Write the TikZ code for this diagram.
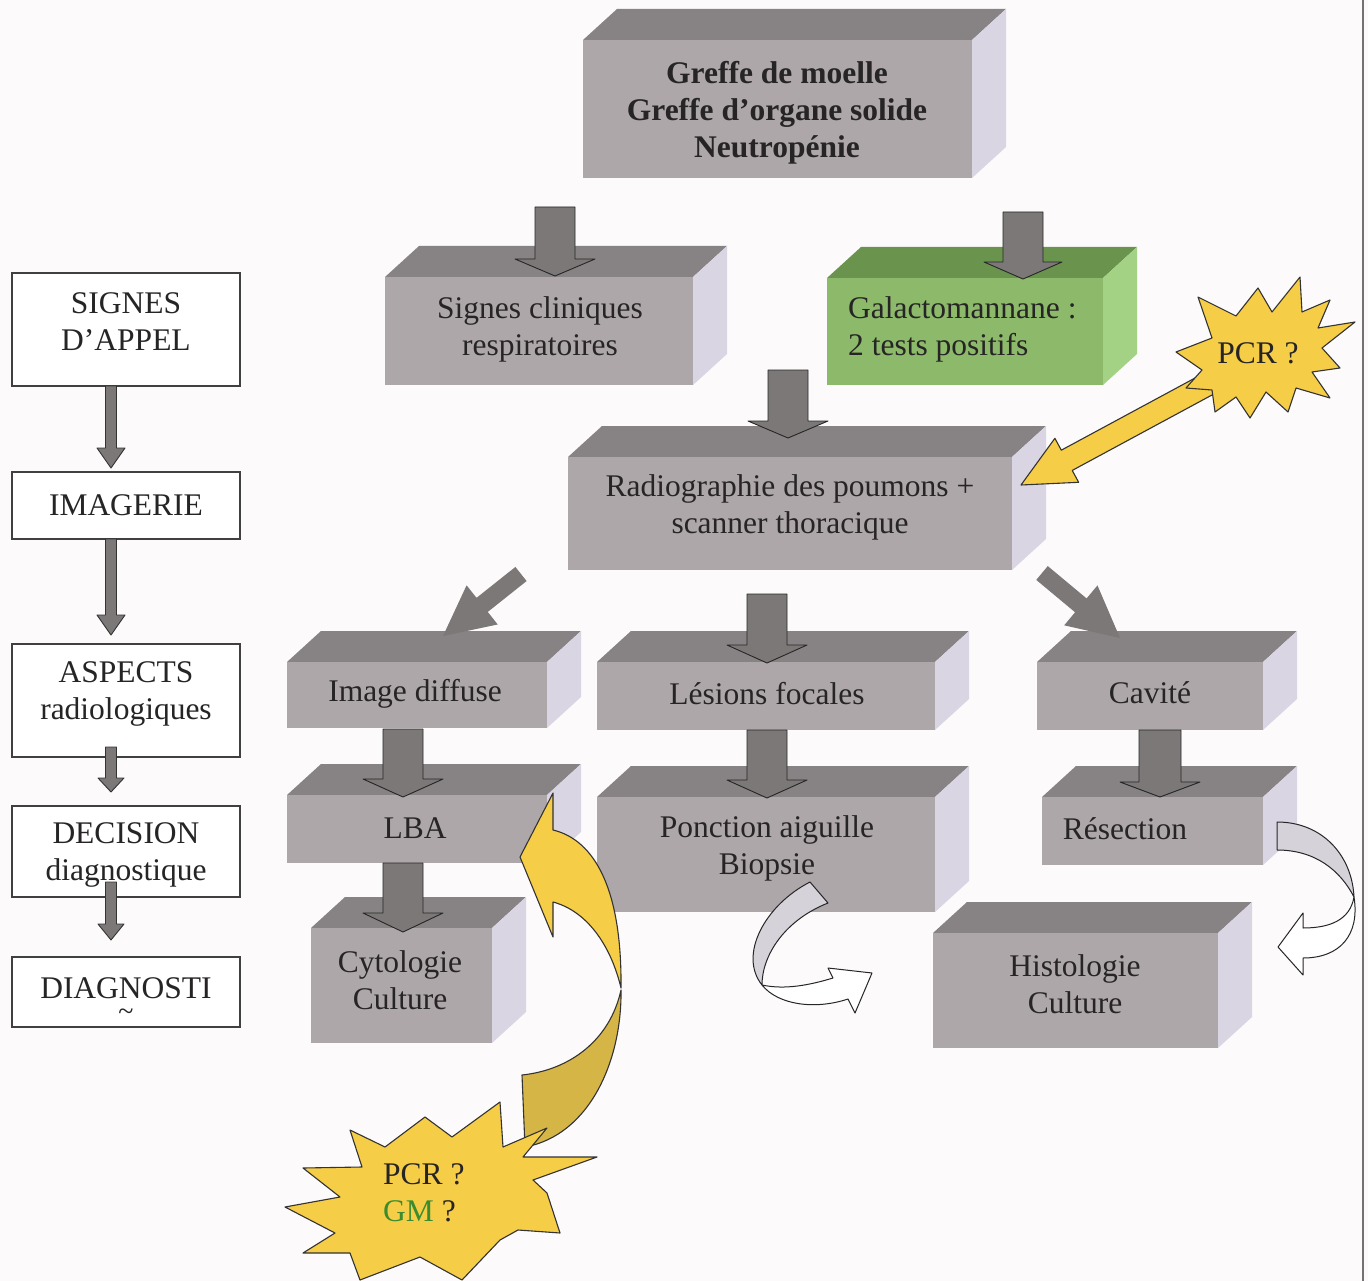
\documentclass[tikz,border=0pt]{standalone}
\usepackage{fontspec}
\setmainfont{Liberation Serif}
\usetikzlibrary{calc}
\definecolor{bg}{HTML}{FCFAFB}
\definecolor{frontc}{HTML}{ADA7AA}
\definecolor{topc}{HTML}{878283}
\definecolor{sidec}{HTML}{DAD5E3}
\definecolor{gfrontc}{HTML}{8CB96A}
\definecolor{gtopc}{HTML}{6A944E}
\definecolor{gsidec}{HTML}{A4D284}
\definecolor{arrc}{HTML}{7D7878}
\definecolor{txtc}{HTML}{262424}
\definecolor{yel}{HTML}{F6CD47}
\definecolor{yeld}{HTML}{D6B547}
\definecolor{gmc}{HTML}{3B8C2E}
\definecolor{ribc}{HTML}{D6D2D9}
\tikzset{
 greyfront/.style={fill=frontc, inner sep=0pt, outer sep=0pt},
 greytop/.style={fill=topc},
 greyside/.style={fill=sidec},
 greenfront/.style={fill=gfrontc, inner sep=0pt, outer sep=0pt},
 greentop/.style={fill=gtopc},
 greenside/.style={fill=gsidec},
 txt/.style={font=\fontsize{31.5}{37}\selectfont, text=txtc, align=center, inner sep=0pt},
 lbox/.style={draw=black!75, line width=1.3pt, fill=white, minimum width=228pt, inner sep=0pt},
 blk/.style={fill=arrc, draw=black!85, line width=0.9pt, line join=round},
 diagarr/.style={fill=arrc},
 lblk/.style={fill=arrc, draw=black!80, line width=0.9pt, line join=round},
 yfill/.style={fill=yel, draw=black!80, line width=1.1pt, line join=round},
 ydark/.style={fill=yeld, draw=black!80, line width=1.1pt, line join=round},
 ribgrey/.style={fill=ribc, draw=black!85, line width=1pt, line join=round},
 ribwhite/.style={fill=white, draw=black!85, line width=1pt, line join=round},
}
% 3D box: name, x1, y1, x2, y2, style prefix
\newcommand\cubebox[6]{%
  \fill[#6top] (#2,#3) -- ({#2+34},{#3-31}) -- ({#4+34},{#3-31}) -- (#4,#3) -- cycle;
  \fill[#6side] (#4,#3) -- ({#4+34},{#3-31}) -- ({#4+34},{#5-31}) -- (#4,#5) -- cycle;
  \node[#6front, minimum width={(#4)-(#2)}, minimum height={(#5)-(#3)}] (#1) at ({(#2+#4)/2},{(#3+#5)/2}) {};
}
% block arrow: style, prefix, start, tip, shaft half width, head half width, head length
\newcommand\blockarrow[7]{%
  \coordinate (#2h) at ($(#4)!#7pt!(#3)$);
  \path[#1] ($(#3)!#5pt!90:(#4)$) -- ($(#2h)!#5pt!-90:(#3)$) -- ($(#2h)!#6pt!-90:(#3)$) -- (#4)
    -- ($(#2h)!#6pt!90:(#3)$) -- ($(#2h)!#5pt!90:(#3)$) -- ($(#3)!#5pt!-90:(#4)$) -- cycle;
}
\begin{document}
\begin{tikzpicture}[x=1pt,y=-1pt]
\useasboundingbox (0,0) rectangle (1368,1281);
\fill[bg] (0,0) rectangle (1368,1281);
\draw[black!55, line width=2pt] (1363,0) -- (1363,1281);

% ---------- 3D boxes ----------
\cubebox{b1}{583}{40}{972}{178}{grey}
\cubebox{b2}{385}{277}{693}{385}{grey}
\cubebox{b3}{827}{278}{1103}{385}{green}
\cubebox{b4}{568}{457}{1012}{570}{grey}
\cubebox{b5}{287}{662}{547}{728}{grey}
\cubebox{b6}{597}{662}{935}{730}{grey}
\cubebox{b7}{1037}{662}{1263}{730}{grey}
\cubebox{b8}{287}{795}{547}{863}{grey}
\cubebox{b9}{597}{797}{935}{912}{grey}
\cubebox{b10}{1042}{797}{1263}{865}{grey}
\cubebox{b11}{311}{928}{492}{1043}{grey}
\cubebox{b12}{933}{933}{1218}{1048}{grey}

% ---------- box texts ----------
\node[txt, font=\fontsize{31.5}{37}\selectfont\bfseries] (t1) at (777,113) {Greffe de moelle\\Greffe d’organe solide\\Neutropénie};
\node[txt] (t2) at (540,329) {Signes cliniques\\respiratoires};
\node[txt, align=left, anchor=west] (t3) at (848,329) {Galactomannane :\\2 tests positifs};
\node[txt] (t4) at (790,507) {Radiographie des poumons +\\scanner thoracique};
\node[txt] (t5) at (415,694) {Image diffuse};
\node[txt] (t6) at (767,694) {Lésions focales};
\node[txt] (t7) at (1150,693) {Cavité};
\node[txt] (t8) at (415,828) {LBA};
\node[txt] (t9) at (767,848) {Ponction aiguille\\Biopsie};
\node[txt] (t10) at (1125,829) {Résection};
\node[txt] (t11) at (400,980) {Cytologie\\Culture};
\node[txt] (t12) at (1075,984) {Histologie\\Culture};

% ---------- left column ----------
\node[lbox, minimum height=113pt] (L1) at (126,329.5) {};
\node[lbox, minimum height=67pt] (L2) at (126,505.5) {};
\node[lbox, minimum height=113pt] (L3) at (126,700.5) {};
\node[lbox, minimum height=91pt] (L4) at (126,851.5) {};
\node[lbox, minimum height=70pt] (L5) at (126,992) {};
\node[txt] (tL1) at (126,322) {SIGNES\\D’APPEL};
\node[txt] (tL2) at (126,505) {IMAGERIE};
\node[txt] (tL3) at (126,694) {ASPECTS\\radiologiques};
\node[txt] (tL4) at (126,855) {DECISION\\diagnostique};
\node[txt, anchor=north] (tL5) at (126,977) {DIAGNOSTI\\[-15pt]{\fontsize{28}{28}\selectfont\textasciitilde}};

\coordinate (l1s) at (111,386); \coordinate (l1e) at (111,468);
\coordinate (l2s) at (111,539); \coordinate (l2e) at (111,635);
\coordinate (l3s) at (111,747); \coordinate (l3e) at (111,792);
\coordinate (l4s) at (111,882); \coordinate (l4e) at (111,940);
\blockarrow{lblk}{l1}{l1s}{l1e}{5.5}{14}{20}
\blockarrow{lblk}{l2}{l2s}{l2e}{5.5}{14}{20}
\blockarrow{lblk}{l3}{l3s}{l3e}{5.5}{13}{14}
\blockarrow{lblk}{l4}{l4s}{l4e}{5.5}{13}{16}

% ---------- grey block arrows ----------
\coordinate (a1s) at (555,207);  \coordinate (a1e) at (555,276);
\coordinate (a2s) at (1023,212); \coordinate (a2e) at (1023,279);
\coordinate (a3s) at (788,370);  \coordinate (a3e) at (788,438);
\coordinate (a5s) at (767,594);  \coordinate (a5e) at (767,663);
\coordinate (a7s) at (403,729);  \coordinate (a7e) at (403,797);
\coordinate (a8s) at (767,730);  \coordinate (a8e) at (767,798);
\coordinate (a9s) at (1160,730); \coordinate (a9e) at (1160,797);
\coordinate (a10s) at (403,863); \coordinate (a10e) at (403,932);
\blockarrow{blk}{a1}{a1s}{a1e}{20}{40}{17}
\blockarrow{blk}{a2}{a2s}{a2e}{20}{39}{17}
\blockarrow{blk}{a3}{a3s}{a3e}{20}{40}{17}
\blockarrow{blk}{a5}{a5s}{a5e}{20}{40}{18}
\blockarrow{blk}{a7}{a7s}{a7e}{20}{40}{18}
\blockarrow{blk}{a8}{a8s}{a8e}{20}{40}{18}
\blockarrow{blk}{a9}{a9s}{a9e}{21}{40}{15}
\blockarrow{blk}{a10}{a10s}{a10e}{20}{40}{19}
\coordinate (a4s) at (521,574);  \coordinate (a4e) at (443,636);
\coordinate (a6s) at (1042,573); \coordinate (a6e) at (1120,638);
\blockarrow{diagarr}{a4}{a4s}{a4e}{9}{25}{50}
\blockarrow{diagarr}{a6}{a6s}{a6e}{9}{26}{51}

% ---------- white curved arrows ----------
\path[ribgrey] (810,882) .. controls (765,905) and (738,955) .. (762,985)
  .. controls (762,955) and (785,920) .. (828,903) -- cycle;
\path[ribwhite] (762,985) .. controls (785,990) and (810,985) .. (833,978) -- (828,968) -- (872,973)
  -- (855,1013) -- (848,999) .. controls (815,1010) and (778,1005) .. (762,985) -- cycle;
\path[ribgrey] (1277,822) .. controls (1322,822) and (1352,855) .. (1354,897)
  .. controls (1340,870) and (1315,850) .. (1277,850) -- cycle;
\path[ribwhite] (1354,897) .. controls (1350,920) and (1330,928) .. (1303,928) -- (1303,913) -- (1278,947)
  -- (1303,975) -- (1303,958) .. controls (1340,958) and (1360,935) .. (1354,897) -- cycle;

% ---------- yellow curved arrow ----------
\path[ydark] (621,990) .. controls (622,1060) and (590,1135) .. (525,1147) -- (522,1075)
  .. controls (570,1070) and (610,1040) .. (621,990) -- cycle;
\path[yfill] (553,830) .. controls (595,840) and (622,890) .. (621,988)
  .. controls (612,950) and (590,912) .. (553,902) -- (553,937) -- (520,857) -- (553,793) -- cycle;

% ---------- bottom burst ----------
\path[yfill] (285,1207) -- (340,1197) -- (303,1168) -- (362,1167) -- (350,1130) -- (385,1147)
  -- (425,1117) -- (452,1137) -- (500,1102) -- (503,1147) -- (547,1128) -- (523,1157)
  -- (597,1157) -- (533,1180) -- (547,1193) -- (560,1233) -- (518,1230) -- (500,1240)
  -- (462,1280) -- (420,1257) -- (360,1280) -- (350,1253) -- (303,1253) -- (335,1233) -- cycle;
\node[txt, align=left, anchor=west] (tb) at (383,1193) {PCR ?\\\textcolor{gmc}{GM} ?};

% ---------- yellow straight arrow + top burst ----------
\coordinate (ys) at (1210,383); \coordinate (ye) at (1021,485);
\blockarrow{yfill}{ya}{ys}{ye}{11.5}{25}{52}
\path[yfill] (1176,352) -- (1212,338) -- (1198,297) -- (1236,316) -- (1258,288) -- (1272,312)
  -- (1300,277) -- (1302,312) -- (1330,300) -- (1318,328) -- (1355,322) -- (1322,348)
  -- (1340,368) -- (1312,372) -- (1330,398) -- (1296,388) -- (1288,412) -- (1266,392)
  -- (1250,418) -- (1236,397) -- (1215,412) -- (1212,390) -- (1186,388) -- (1202,370) -- cycle;
\node[txt] (tp) at (1258,353) {PCR ?};
\end{tikzpicture}
\end{document}
